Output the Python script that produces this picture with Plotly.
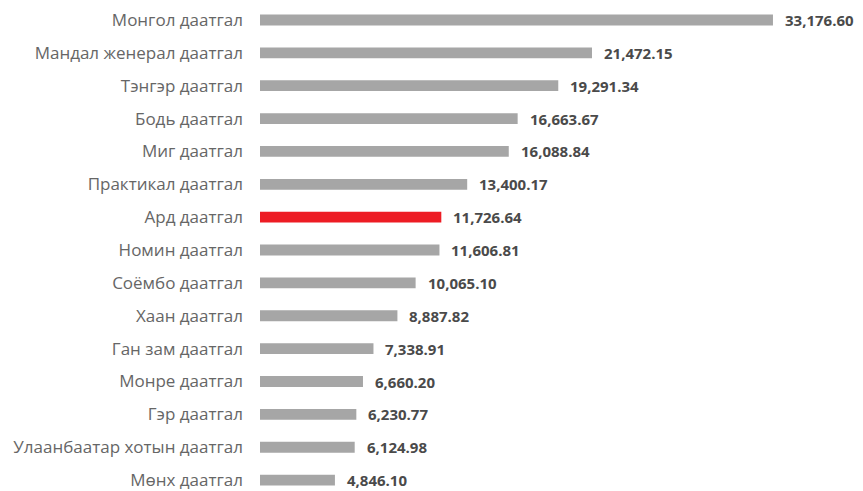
import plotly.graph_objects as go

categories = ["Монгол даатгал", "Мандал женерал даатгал", "Тэнгэр даатгал", "Бодь даатгал",
              "Миг даатгал", "Практикал даатгал", "Ард даатгал", "Номин даатгал",
              "Соёмбо даатгал", "Хаан даатгал", "Ган зам даатгал", "Монре даатгал",
              "Гэр даатгал", "Улаанбаатар хотын даатгал", "Мөнх даатгал"]
values = [33176.60, 21472.15, 19291.34, 16663.67, 16088.84, 13400.17, 11726.64, 11606.81,
          10065.10, 8887.82, 7338.91, 6660.20, 6230.77, 6124.98, 4846.10]
highlight = "Ард даатгал"

colors = ["#ED1C24" if c == highlight else "#A6A6A6" for c in categories]
labels = [f"{v:,.2f}" for v in values]

fig = go.Figure(go.Bar(
    x=values, y=categories, orientation="h",
    marker=dict(color=colors, line=dict(width=0)),
    hoverinfo="skip",
))

annotations = [dict(x=v, y=c, text=f"<b>{t}</b>", showarrow=False, xanchor="left",
                    yanchor="middle", xshift=10,
                    font=dict(family="Open Sans, Roboto, sans-serif", size=15, color="#4A4A4A"))
               for c, v, t in zip(categories, values, labels)]

# page body has an 8px default margin, so the figure is sized 8px smaller
fig.update_layout(
    width=855, height=483,
    margin=dict(l=252, r=0, t=0, b=0),
    paper_bgcolor="white", plot_bgcolor="white",
    bargap=0.67,
    showlegend=False,
    annotations=annotations,
    xaxis=dict(range=[0, 39000], visible=False),
    yaxis=dict(type="category", categoryorder="array", categoryarray=categories,
               range=[14.27, -0.364], showgrid=False, zeroline=False, showline=False,
               ticks="", ticklabelstandoff=16,
               tickfont=dict(family="Open Sans, Roboto, sans-serif", size=17, color="#666666")),
)

fig.write_html("out.html")
